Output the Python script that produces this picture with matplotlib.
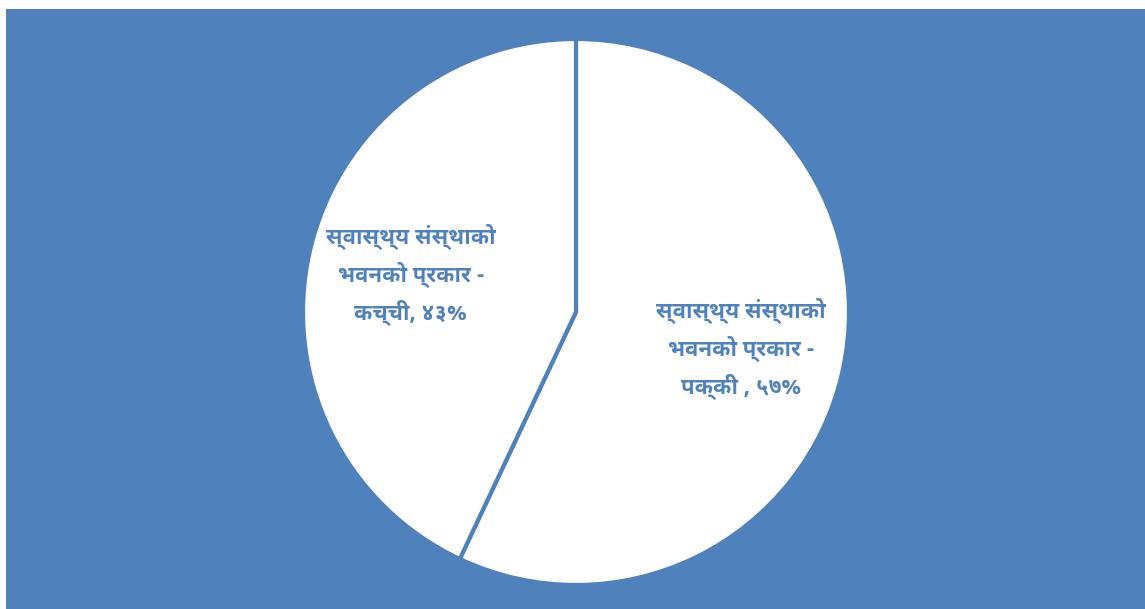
import matplotlib
matplotlib.use("Agg")
import matplotlib.pyplot as plt

labels = ["स्वास्थ्य संस्थाको\nभवनको प्रकार -\nपक्की , ५७%",
          "स्वास्थ्य संस्थाको\nभवनको प्रकार -\nकच्ची, ४३%"]
values = [57, 43]

BLUE = "#4F81BD"
fig = plt.figure(figsize=(11.45, 6.09), dpi=100, facecolor="white")
W, H = 1145, 609
ax = fig.add_axes([6 / W, 0, (W - 6) / W, 600 / H])
ax.set_facecolor(BLUE)

wedges, texts = ax.pie(values, labels=labels, startangle=90, counterclock=False,
                       center=(576, 297), radius=273, frame=True,
                       colors=["white", "white"],
                       wedgeprops=dict(edgecolor=BLUE, linewidth=3),
                       labeldistance=0.62,
                       textprops=dict(color=BLUE, fontsize=16, fontweight="bold",
                                      family=["Noto Sans Devanagari UI", "Noto Sans Devanagari", "DejaVu Sans"],
                                      linespacing=1.6))
for t in texts:
    t.set_ha("center")
    t.set_va("center")
ax.set_xlim(6, 1145)
ax.set_ylim(0, 600)
ax.set_aspect("equal")
for s in ax.spines.values():
    s.set_visible(False)
ax.set_xticks([])
ax.set_yticks([])
fig.savefig("out.png", facecolor="white")
